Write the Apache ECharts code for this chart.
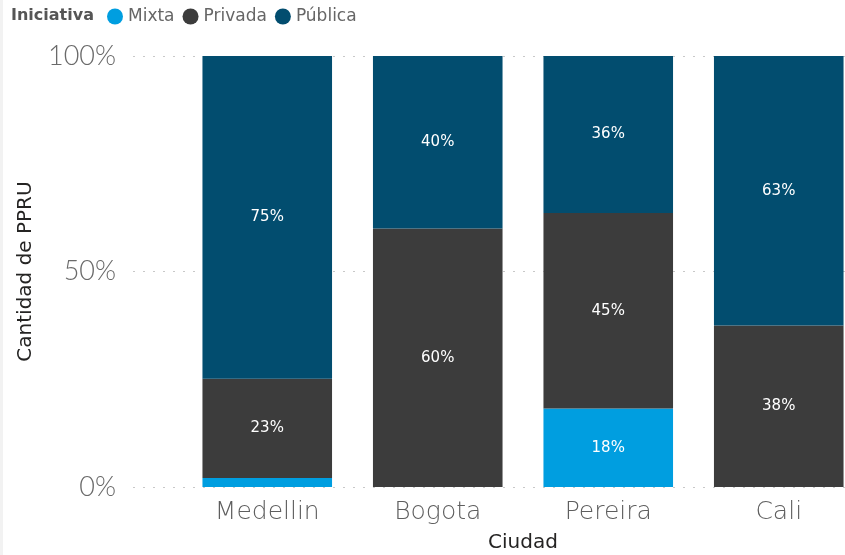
<!DOCTYPE html>
<html><head><meta charset="utf-8">
<script src="https://cdn.jsdelivr.net/npm/echarts@6/dist/echarts.min.js"></script>
<style>html,body{margin:0;padding:0;background:#fff}#c{width:845px;height:555px}#strip{position:absolute;left:0;top:0;width:3px;height:555px;background:#f2f2f2}</style>
</head><body><div id="c"></div><div id="strip"></div>
<script>
const categories = ['Medellin', 'Bogota', 'Pereira', 'Cali'];
const mixta = [2.1, 0, 18.2, 0];
const privada = [23.0, 60.0, 45.4, 37.5];
const publica = [74.9, 40.0, 36.4, 62.5];
const yTicks = [0, 50, 100];

const chart = echarts.init(document.getElementById('c'));
const FONT = "'DejaVu Sans'";
const lbl = {
  show: true, color: '#ffffff', fontSize: 15, fontFamily: FONT,
  formatter: p => (p.value < 5 ? '' : Math.round(p.value) + '%')
};
function ser(name, data, color) {
  return { name, type: 'bar', stack: 's', xAxisIndex: 1, yAxisIndex: 1, data,
    barCategoryGap: '24%', itemStyle: { color }, label: lbl, emphasis: { disabled: true } };
}
chart.setOption({
  animation: false,
  textStyle: { fontFamily: FONT },
  title: { text: 'Iniciativa', left: 6, top: 3, textStyle: { fontSize: 16, fontWeight: 'bold', color: '#555', fontFamily: FONT } },
  legend: { left: 102, top: 3, icon: 'circle', itemWidth: 16, itemHeight: 16, itemGap: 8,
    textStyle: { fontSize: 17, color: '#666', fontFamily: FONT },
    data: ['Mixta', 'Privada', 'Pública'] },
  grid: [
    { left: 133, right: 0, top: 56, bottom: 68, containLabel: false, outerBoundsMode: 'none' },
    { left: 182, right: -19, top: 56, bottom: 68, containLabel: false, outerBoundsMode: 'none' }
  ],
  xAxis: [
    { type: 'value', gridIndex: 0, show: false, min: 0, max: 1 },
    { type: 'category', gridIndex: 1, data: categories,
      axisLine: { show: false }, axisTick: { show: false },
      axisLabel: { fontSize: 25, color: '#5e5e5e', margin: 13, fontFamily: FONT, fontWeight: 200 },
      name: 'Ciudad', nameLocation: 'middle', nameGap: 46,
      nameTextStyle: { fontSize: 20, color: '#252423', fontFamily: FONT } }
  ],
  yAxis: [
    { type: 'value', gridIndex: 0, min: 0, max: 100, interval: 50,
      axisLabel: { formatter: v => yTicks.includes(v) ? v + '%' : '', fontSize: 27, color: '#6a6a6a', margin: 17, fontFamily: 'Lato', fontWeight: 300 },
      splitLine: { lineStyle: { type: [2, 8], color: '#c8c8c8', width: 1.2 } },
      axisLine: { show: false }, axisTick: { show: false },
      name: 'Cantidad de PPRU', nameLocation: 'middle', nameGap: 97,
      nameTextStyle: { fontSize: 20, color: '#252423', fontFamily: FONT } },
    { type: 'value', gridIndex: 1, min: 0, max: 100, show: false, splitLine: { show: false } }
  ],
  series: [
    ser('Mixta', mixta, '#009ee0'),
    ser('Privada', privada, '#3c3c3c'),
    ser('Pública', publica, '#024d6f')
  ]
});
</script></body></html>
